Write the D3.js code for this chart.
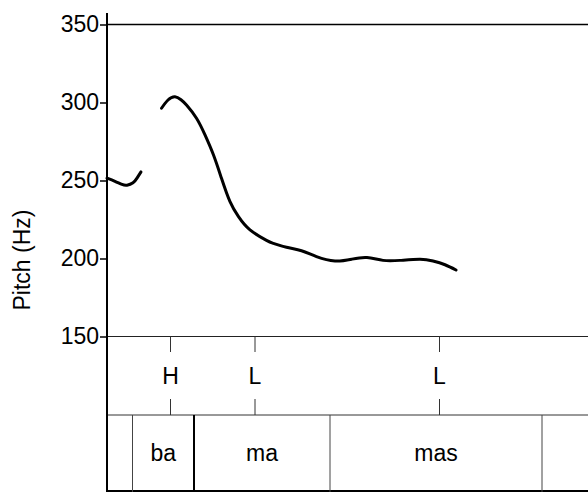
<!DOCTYPE html>
<html>
<head>
<meta charset="utf-8">
<script src="https://cdn.jsdelivr.net/npm/d3@7"></script>
<style>
  body { margin: 0; background: #fff; }
  svg { display: block; }
  text { font-family: "Liberation Sans", Arial, sans-serif; fill: #000; }
</style>
</head>
<body>
<svg id="chart" width="588" height="494"></svg>
<script>
// pitch track, [time (s), pitch (Hz)], two voiced stretches
const pitchA = [
  [0.000, 251.5], [0.016, 249.5], [0.030, 247.5], [0.040, 247.0],
  [0.052, 248.5], [0.060, 251.5], [0.068, 255.5]
];
const pitchB = [
  [0.109, 296.3], [0.122, 301.6], [0.136, 303.7], [0.148, 301.8],
  [0.159, 298.4], [0.179, 289.9], [0.196, 279.2], [0.213, 266.3],
  [0.229, 251.4], [0.246, 236.4], [0.263, 226.8], [0.286, 218.3],
  [0.319, 211.6], [0.333, 209.7], [0.359, 207.2], [0.389, 205.0],
  [0.419, 201.2], [0.456, 198.4], [0.490, 199.6], [0.520, 200.6],
  [0.552, 198.8], [0.586, 198.8], [0.626, 199.5], [0.652, 198.4],
  [0.676, 196.0], [0.698, 192.6]
];
const yTicks = [150, 200, 250, 300, 350];

// tone tier
const toneLabels = ["H", "L", "L"];
const toneTimes = [0.127, 0.296, 0.665];

// syllable tier
const syllableBounds = [0.051, 0.174, 0.446, 0.870];
const syllableLabels = ["ba", "ma", "mas"];
const wordBounds = [0.174];

const svg = d3.select('#chart');
const left = 107, right = 588;
const plotTop = 24.5, plotBottom = 336.5;
const toneBottom = 415, tierBottom = 492;
const fontSize = '23px';

const x = d3.scaleLinear().domain([0, 0.962]).range([left, right]);
const y = d3.scaleLinear().domain([150, 350]).range([plotBottom, plotTop]);

// frame lines
svg.append('line')
  .attr('x1', left).attr('x2', right).attr('y1', plotTop).attr('y2', plotTop)
  .attr('stroke', '#000').attr('stroke-width', 1.5);
svg.append('line')
  .attr('x1', left).attr('x2', right).attr('y1', plotBottom).attr('y2', plotBottom)
  .attr('stroke', '#222').attr('stroke-width', 1.2);
svg.append('line')
  .attr('x1', left).attr('x2', right).attr('y1', toneBottom).attr('y2', toneBottom)
  .attr('stroke', '#333').attr('stroke-width', 1);
svg.append('line')
  .attr('x1', left).attr('x2', right).attr('y1', tierBottom - 1).attr('y2', tierBottom - 1)
  .attr('stroke', '#000').attr('stroke-width', 2);

// y axis
const yAxis = svg.append('g')
  .attr('transform', `translate(${left}, 0)`)
  .call(d3.axisLeft(y).tickValues(yTicks).tickSize(7).tickPadding(1));
yAxis.select('.domain').remove();
yAxis.selectAll('.tick line').attr('stroke', '#000').attr('stroke-width', 1.5);
yAxis.selectAll('.tick text')
  .style('font-family', '"Liberation Sans", Arial, sans-serif')
  .style('font-size', fontSize).attr('fill', '#000');

svg.append('line')
  .attr('x1', left).attr('x2', left).attr('y1', 13).attr('y2', tierBottom)
  .attr('stroke', '#000').attr('stroke-width', 2);

svg.append('text')
  .attr('transform', `translate(30, 260) rotate(-90)`)
  .attr('text-anchor', 'middle')
  .style('font-size', fontSize)
  .text('Pitch (Hz)');

// pitch contour
const line = d3.line()
  .x(d => x(d[0]))
  .y(d => y(d[1]))
  .curve(d3.curveNatural);

[pitchA, pitchB].forEach(seg => {
  svg.append('path')
    .datum(seg)
    .attr('d', line)
    .attr('fill', 'none')
    .attr('stroke', '#000')
    .attr('stroke-width', 3)
    .attr('stroke-linecap', 'round')
    .attr('stroke-linejoin', 'round');
});

// tone tier
const tones = svg.selectAll('.tone')
  .data(toneTimes.map((t, i) => ({ t, label: toneLabels[i] })))
  .enter().append('g').attr('class', 'tone');
tones.append('line')
  .attr('x1', d => x(d.t)).attr('x2', d => x(d.t))
  .attr('y1', plotBottom).attr('y2', 352)
  .attr('stroke', '#333').attr('stroke-width', 1);
tones.append('line')
  .attr('x1', d => x(d.t)).attr('x2', d => x(d.t))
  .attr('y1', 399).attr('y2', toneBottom)
  .attr('stroke', '#333').attr('stroke-width', 1);
tones.append('text')
  .attr('x', d => x(d.t)).attr('y', 384)
  .attr('text-anchor', 'middle')
  .style('font-size', fontSize)
  .text(d => d.label);

// syllable tier
svg.selectAll('.bound')
  .data(syllableBounds)
  .enter().append('line')
  .attr('class', 'bound')
  .attr('x1', d => x(d)).attr('x2', d => x(d))
  .attr('y1', toneBottom).attr('y2', tierBottom)
  .attr('stroke', d => wordBounds.includes(d) ? '#000' : '#444')
  .attr('stroke-width', d => wordBounds.includes(d) ? 2 : 1);

svg.selectAll('.syl')
  .data(syllableLabels)
  .enter().append('text')
  .attr('class', 'syl')
  .attr('x', (d, i) => (x(syllableBounds[i]) + x(syllableBounds[i + 1])) / 2)
  .attr('y', 461)
  .attr('text-anchor', 'middle')
  .style('font-size', fontSize)
  .text(d => d);
</script>
</body>
</html>
